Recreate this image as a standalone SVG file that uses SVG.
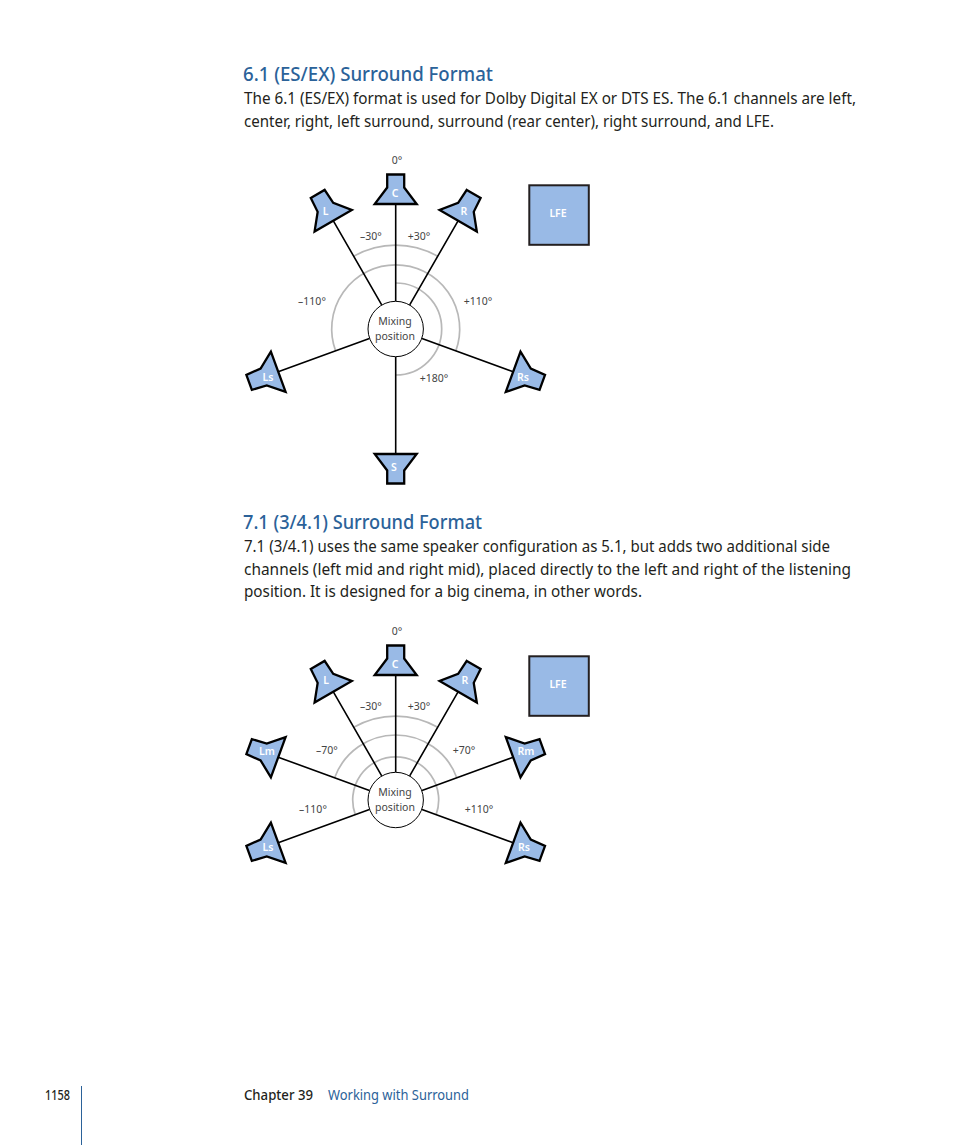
<svg xmlns="http://www.w3.org/2000/svg" width="954" height="1145" viewBox="0 0 954 1145">
<style>
text{font-family:"Noto Sans","Open Sans","Liberation Sans",sans-serif}
.h{font-size:20.5px;font-weight:500;fill:#2b6299}
.b{font-size:16.5px;fill:#231f20}
.a{font-size:10.5px;fill:#444;text-anchor:middle}
.w{font-size:10.5px;font-weight:600;fill:#fff;text-anchor:middle}
.f{font-size:13.5px;fill:#231f20}
.m{font-weight:500}
.sp{fill:#99bae6;stroke:#000;stroke-width:2.3;stroke-miterlimit:10}
.lfe{fill:#99bae6;stroke:#231f20;stroke-width:2}
.spoke{stroke:#000;stroke-width:1.6;fill:none}
.arc{stroke:#b8b8b8;stroke-width:1.7;fill:none}
.mix{fill:#fff;stroke:#000;stroke-width:1}
</style>
<defs>
<polygon id="spk" class="sp" points="-8.5,-154.5 8.5,-154.5 8.5,-141.5 21,-125 -21,-125 -8.5,-141.5"/>
<polygon id="star" class="sp" points="-8,-156 8,-156 9,-140.5 21.500,-125 -21.500,-125 -9,-140.5"/>
</defs>
<rect width="954" height="1145" fill="#fff"/>

<text class="h" x="243" y="81" textLength="250" lengthAdjust="spacingAndGlyphs">6.1 (ES/EX) Surround Format</text>
<text class="b" x="244" y="104" textLength="612" lengthAdjust="spacingAndGlyphs">The 6.1 (ES/EX) format is used for Dolby Digital EX or DTS ES. The 6.1 channels are left,</text>
<text class="b" x="244" y="127" textLength="530" lengthAdjust="spacingAndGlyphs">center, right, left surround, surround (rear center), right surround, and LFE.</text>

<g id="connectors-1" transform="translate(395.7 329)">
<path class="arc" d="M-42 -72.7A84 84 0 0 1 42 -72.7"/>
<path class="arc" d="M-60.1 21.9A64 64 0 1 1 60.1 21.9"/>
<path class="arc" d="M0 -46A46 46 0 0 1 0 46"/>
<path class="spoke" d="M0 -28V-125M-14 -24.2L-62.5 -108.3M14 -24.2L62.5 -108.3M-26.3 9.6L-117.5 42.8M26.3 9.6L117.5 42.8M0 28V125"/>
</g>
<g id="mix-1"><circle class="mix" cx="395.7" cy="329" r="27.7"/><text class="a" x="395" y="325">Mixing</text><text class="a" x="395" y="340">position</text></g>
<g id="spk1-C"><use href="#spk" transform="translate(395.7 329)"/><text class="w" x="395" y="197">C</text></g>
<g id="spk1-L"><use href="#star" transform="translate(395.7 329) rotate(-30)"/><text class="w" x="325.500" y="215">L</text></g>
<g id="spk1-R"><use href="#star" transform="translate(395.7 329) rotate(30)"/><text class="w" x="464" y="215">R</text></g>
<g id="spk1-Ls"><use href="#star" transform="translate(395.7 329) rotate(-110)"/><text class="w" x="268" y="381">Ls</text></g>
<g id="spk1-Rs"><use href="#star" transform="translate(395.7 329) rotate(110)"/><text class="w" x="523" y="381">Rs</text></g>
<g id="spk1-S"><use href="#spk" transform="translate(395.7 329) rotate(180)"/><text class="w" x="394" y="471">S</text></g>
<g id="lfe-1"><rect class="lfe" x="529.3" y="185.300" width="59.500" height="59.500"/><text class="w" x="558" y="217">LFE</text></g>
<g id="angles-1">
<text class="a" x="397" y="164">0°</text>
<text class="a" x="371" y="240">–30°</text>
<text class="a" x="419" y="240">+30°</text>
<text class="a" x="312" y="305">–110°</text>
<text class="a" x="478" y="305">+110°</text>
<text class="a" x="434" y="382">+180°</text>
</g>

<text class="h" x="243" y="529" textLength="239" lengthAdjust="spacingAndGlyphs">7.1 (3/4.1) Surround Format</text>
<text class="b" x="244" y="552" textLength="586" lengthAdjust="spacingAndGlyphs">7.1 (3/4.1) uses the same speaker configuration as 5.1, but adds two additional side</text>
<text class="b" x="244" y="575" textLength="607" lengthAdjust="spacingAndGlyphs">channels (left mid and right mid), placed directly to the left and right of the listening</text>
<text class="b" x="244" y="597" textLength="398" lengthAdjust="spacingAndGlyphs">position. It is designed for a big cinema, in other words.</text>

<g id="connectors-2" transform="translate(395.7 800)">
<path class="arc" d="M-42 -72.7A84 84 0 0 1 42 -72.7"/>
<path class="arc" d="M-61.1 -22.2A65 65 0 0 1 61.1 -22.2"/>
<path class="arc" d="M-40.4 14.7A43 43 0 1 1 40.4 14.7"/>
<path class="spoke" d="M0 -28V-125M-14 -24.2L-62.5 -108.3M14 -24.2L62.5 -108.3M-26.3 -9.6L-117.5 -42.8M26.3 -9.6L117.5 -42.8M-26.3 9.6L-117.5 42.8M26.3 9.6L117.5 42.8"/>
</g>
<g id="mix-2"><circle class="mix" cx="395.700" cy="800" r="27.700"/><text class="a" x="395" y="796">Mixing</text><text class="a" x="395" y="811">position</text></g>
<g id="spk2-C"><use href="#spk" transform="translate(395.7 800)"/><text class="w" x="395" y="668">C</text></g>
<g id="spk2-L"><use href="#star" transform="translate(395.7 800) rotate(-30)"/><text class="w" x="326" y="684">L</text></g>
<g id="spk2-R"><use href="#star" transform="translate(395.7 800) rotate(30)"/><text class="w" x="465" y="684">R</text></g>
<g id="spk2-Lm"><use href="#star" transform="translate(395.7 800) rotate(-70)"/><text class="w" x="267" y="755">Lm</text></g>
<g id="spk2-Rm"><use href="#star" transform="translate(395.7 800) rotate(70)"/><text class="w" x="526" y="755">Rm</text></g>
<g id="spk2-Ls"><use href="#star" transform="translate(395.7 800) rotate(-110)"/><text class="w" x="268" y="851">Ls</text></g>
<g id="spk2-Rs"><use href="#star" transform="translate(395.7 800) rotate(110)"/><text class="w" x="524" y="851">Rs</text></g>
<g id="lfe-2"><rect class="lfe" x="529.300" y="656.300" width="59.500" height="59.500"/><text class="w" x="558" y="688">LFE</text></g>
<g id="angles-2">
<text class="a" x="397" y="635">0°</text>
<text class="a" x="371" y="710">–30°</text>
<text class="a" x="419" y="710">+30°</text>
<text class="a" x="327" y="754">–70°</text>
<text class="a" x="464" y="754">+70°</text>
<text class="a" x="313" y="813">–110°</text>
<text class="a" x="479" y="813">+110°</text>
</g>

<g id="footer">
<line x1="81.500" y1="1086" x2="81.500" y2="1145" stroke="#2b6299" stroke-width="1"/>
<text class="f m" x="45" y="1100" textLength="25" lengthAdjust="spacingAndGlyphs">1158</text>
<text class="f m" x="244" y="1100" textLength="69" lengthAdjust="spacingAndGlyphs">Chapter 39</text>
<text class="f" x="328" y="1100" style="fill:#2b6299" textLength="141" lengthAdjust="spacingAndGlyphs">Working with Surround</text>
</g>
</svg>
